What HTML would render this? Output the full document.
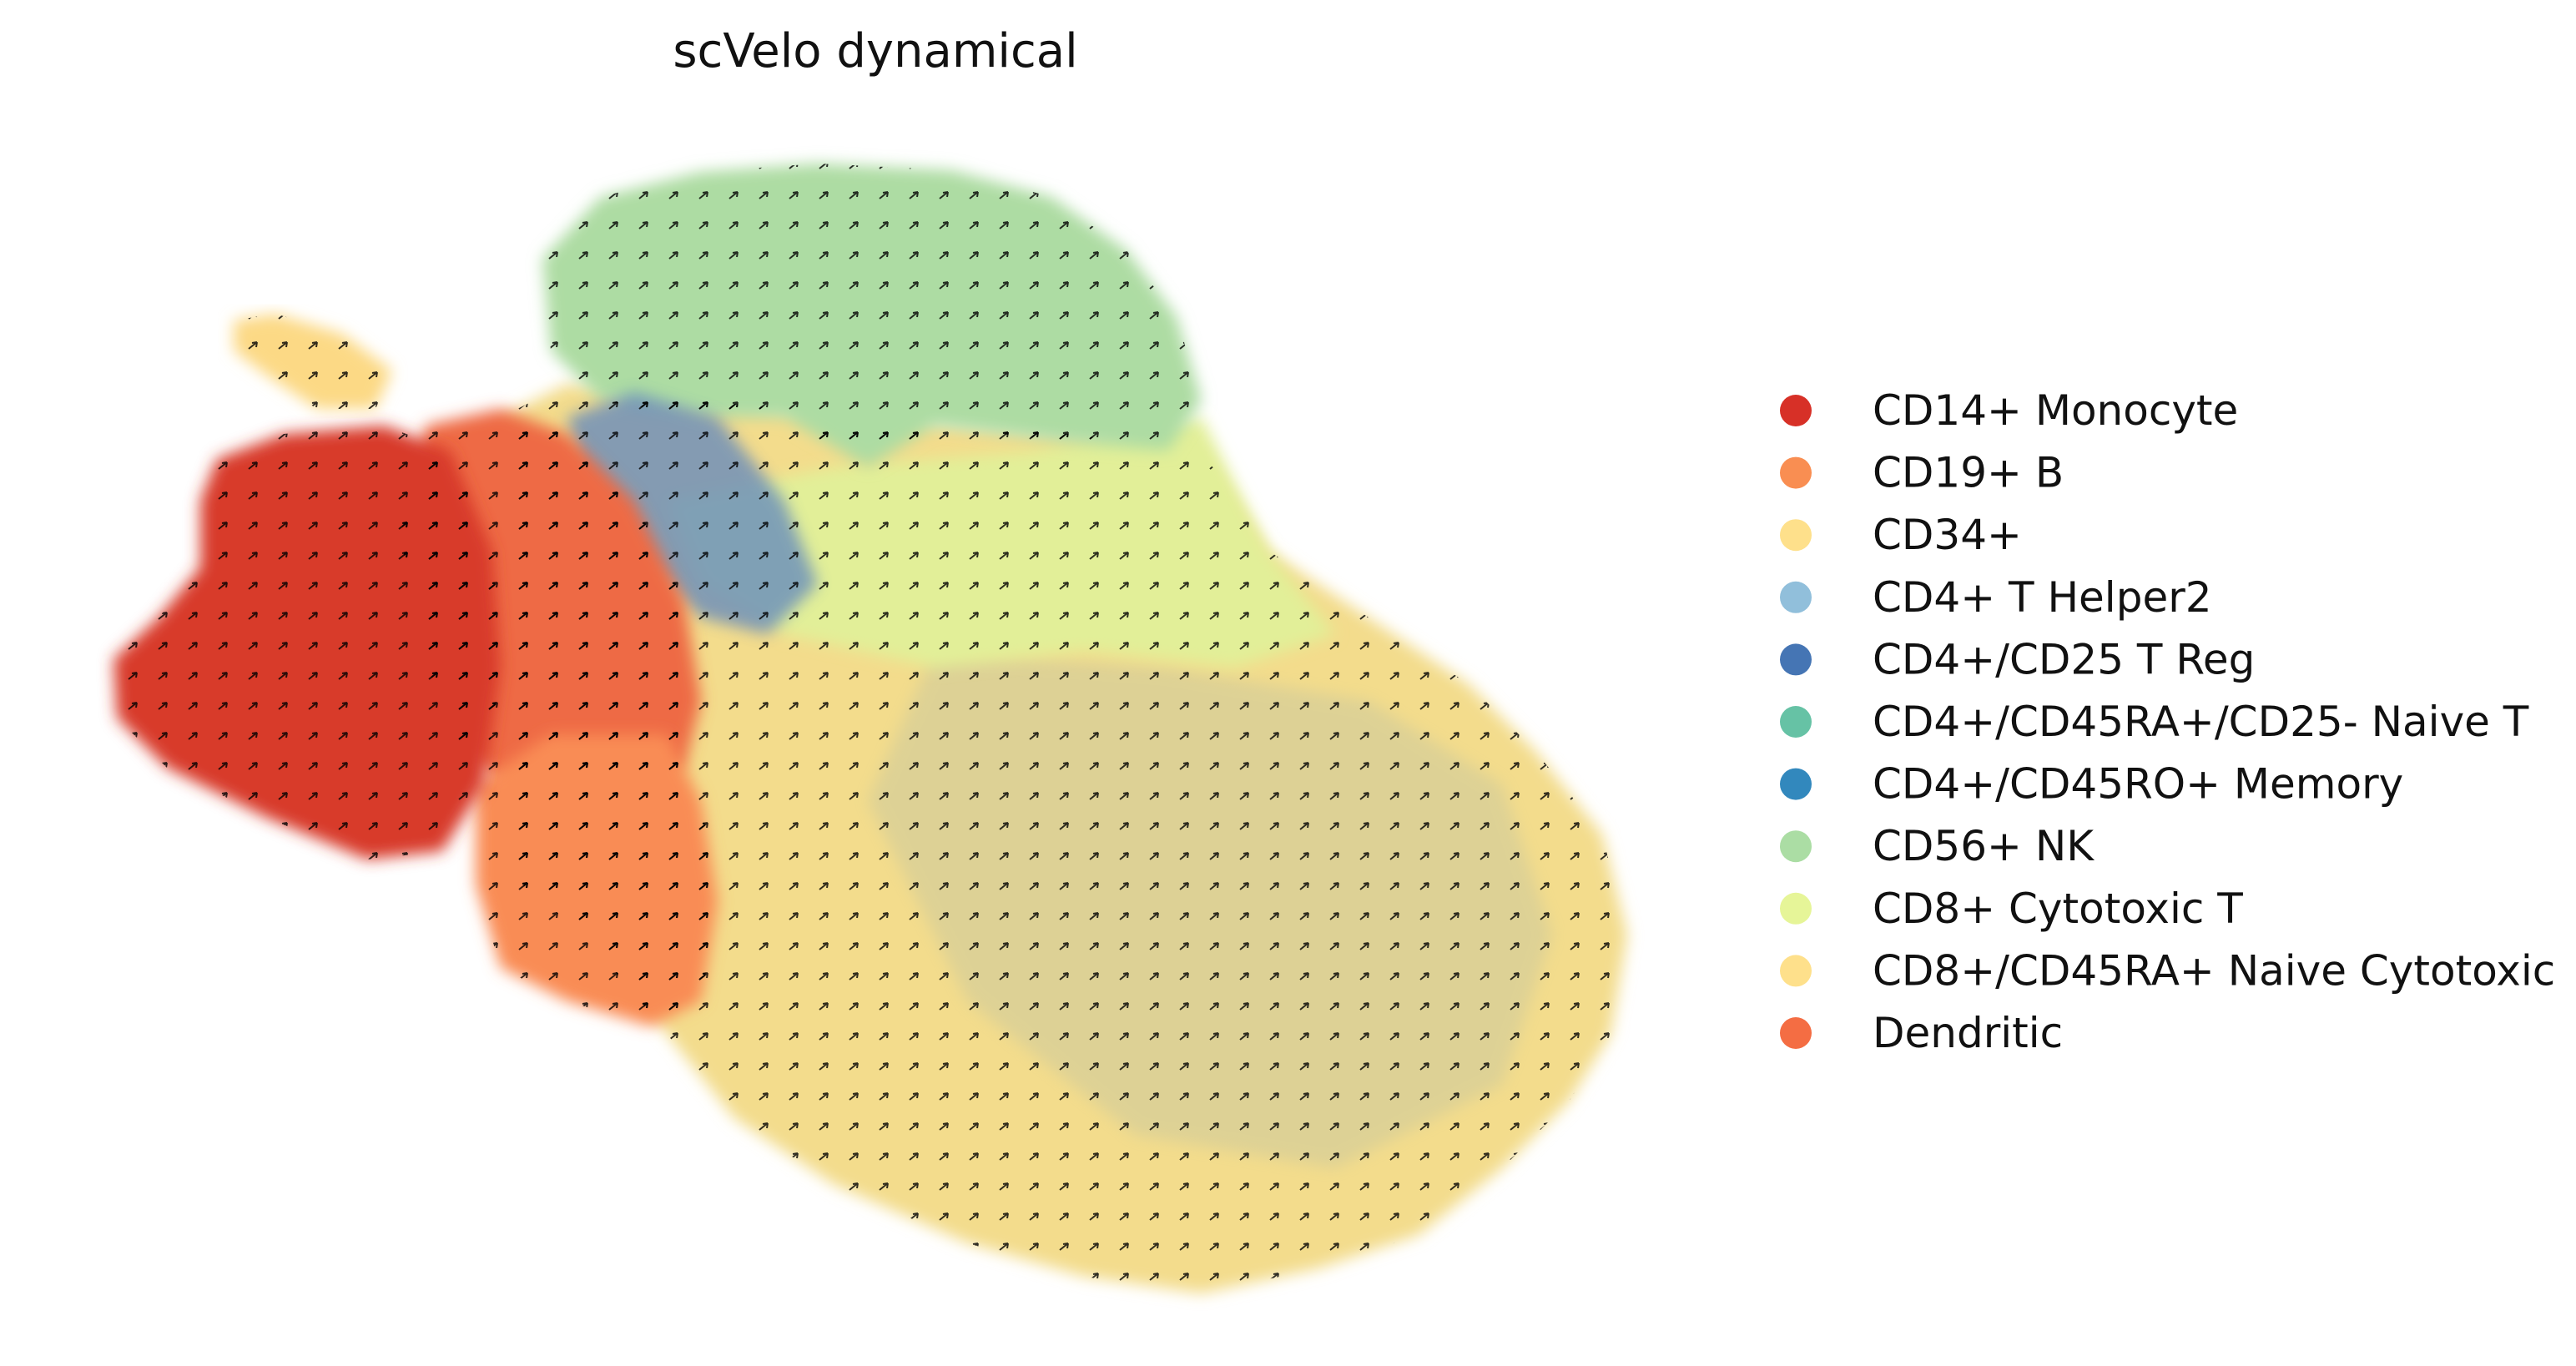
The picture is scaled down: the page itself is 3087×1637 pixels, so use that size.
<!DOCTYPE html>
<html><head><meta charset="utf-8">
<style>
html,body{margin:0;padding:0;background:#fff;}
body{width:3087px;height:1633px;overflow:hidden;position:relative;font-family:"DejaVu Sans","Liberation Sans",sans-serif;}
</style></head>
<body>
<svg width="3087" height="1633" viewBox="0 0 3087 1633" xmlns="http://www.w3.org/2000/svg">
<defs>
<filter id="soft" x="-10%" y="-10%" width="120%" height="120%"><feGaussianBlur stdDeviation="9"/></filter>
<pattern id="arrows" width="36" height="36" patternUnits="userSpaceOnUse">
<path d="M10 22 L20 14 M20 14 l-6 1 M20 14 l-1 6" stroke="#000" stroke-width="2" fill="none"/>
</pattern>
</defs>
<text x="1049" y="80" font-size="56" text-anchor="middle" fill="#111">scVelo dynamical</text>
<g id="plot"></g>
<g id="legend"></g>
</svg>
<script>
// cluster names and colors
const clusters = ["CD14+ Monocyte","CD19+ B","CD34+","CD4+ T Helper2","CD4+/CD25 T Reg","CD4+/CD45RA+/CD25- Naive T","CD4+/CD45RO+ Memory","CD56+ NK","CD8+ Cytotoxic T","CD8+/CD45RA+ Naive Cytotoxic","Dendritic"];
const colors = ["#d73027","#f98e52","#fee08b","#91bfdb","#4575b4","#66c2a5","#3288bd","#abdda4","#e6f598","#fee08b","#f46d43"];
// approximate cluster outlines (embedding coordinates, half-scale pixels)
const bodyRegion = [[300,250],[340,230],[420,240],[520,250],[640,260],[720,270],[760,330],[820,370],[880,410],[920,450],[960,500],[975,560],[965,620],[940,660],[900,700],[850,740],[790,760],[720,775],[650,765],[580,745],[500,710],[440,670],[400,620],[350,560],[300,520]];
const cd8Region = [[400,300],[500,280],[620,270],[720,250],[760,330],[800,380],[740,400],[650,390],[560,400],[470,380],[420,350]];
const nkRegion = [[325,155],[360,118],[420,103],[490,98],[570,102],[630,118],[675,150],[705,190],[720,240],[700,270],[640,265],[560,255],[520,280],[470,250],[420,250],[360,240],[330,210]];
const tregRegion = [[340,250],[380,235],[430,250],[470,300],[490,350],[460,380],[420,370],[380,330],[350,290]];
const dendriticRegion = [[255,255],[300,245],[340,260],[380,300],[410,360],[420,420],[410,460],[360,470],[300,470],[270,440],[250,380],[240,320]];
const bRegion = [[285,470],[330,440],[400,440],[420,480],[430,540],[420,600],[390,615],[340,600],[300,580],[285,530]];
const monoRegion = [[130,275],[170,260],[230,255],[270,270],[295,330],[300,400],[290,470],[265,510],[220,515],[160,490],[100,460],[70,430],[68,395],[95,370],[120,340],[120,300]];
const cd34Region = [[140,192],[165,188],[205,200],[235,222],[225,245],[190,245],[160,225],[140,210]];
const mixRegion = [[560,390],[700,400],[820,420],[900,470],[930,560],[900,650],[800,700],[680,680],[580,600],[520,480]];

const sx = v => v*2, sy = v => v*2;
const ns = "http://www.w3.org/2000/svg";
const plot = document.getElementById('plot');
function poly(pts, fill, op, name){
  const p = document.createElementNS(ns,'polygon');
  p.setAttribute('points', pts.map(q=>sx(q[0])+','+sy(q[1])).join(' '));
  p.setAttribute('fill', fill);
  p.setAttribute('opacity', op);
  p.setAttribute('filter','url(#soft)');
  
  
  plot.appendChild(p);
}
poly(bodyRegion,"#f3dc8c",1,'cluster-cd8-naive-cytotoxic');
poly(mixRegion,"#9fb3b0",0.25,'cluster-mixed-t-cells');
poly(cd8Region,"#e2ef98",1,'cluster-cd8-cytotoxic');
poly(nkRegion,"#addca3",1,'cluster-cd56-nk');
poly(tregRegion,"#5f86bf",0.75,'cluster-cd4-treg');
poly(dendriticRegion,"#ee6a45",1,'cluster-dendritic');
poly(bRegion,"#f98c55",1,'cluster-cd19-b');
poly(monoRegion,"#d83a2c",1,'cluster-cd14-monocyte');
poly(cd34Region,"#fcd985",1,'cluster-cd34');
// arrow texture over all regions
[bodyRegion,nkRegion,dendriticRegion,bRegion,monoRegion,cd34Region].forEach(r=>{
  const p = document.createElementNS(ns,'polygon');
  p.setAttribute('points', r.map(q=>sx(q[0])+','+sy(q[1])).join(' '));
  p.setAttribute('fill','url(#arrows)');
  p.setAttribute('opacity','0.8');
  
  
  plot.appendChild(p);
});
// legend
const lg = document.getElementById('legend');
clusters.forEach((c,i)=>{
  const y = 492 + i*74.6;
  const g = document.createElementNS(ns,'g');
  
  
  const ci = document.createElementNS(ns,'circle');
  ci.setAttribute('cx',2152); ci.setAttribute('cy',y); ci.setAttribute('r',19);
  ci.setAttribute('fill',colors[i]);
  
  
  const t = document.createElementNS(ns,'text');
  t.setAttribute('x',2244); t.setAttribute('y',y+17);
  t.setAttribute('font-size','50'); t.setAttribute('fill','#111');
  t.textContent = c;
  
  
  g.appendChild(ci); g.appendChild(t); lg.appendChild(g);
});
</script>
</body></html>
